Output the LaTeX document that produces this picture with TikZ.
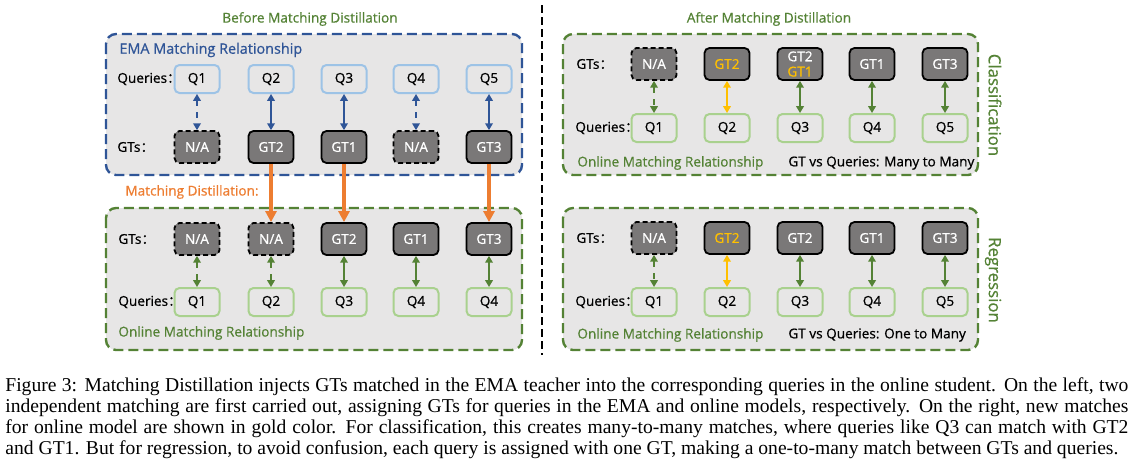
\documentclass[tikz,border=0pt]{standalone}
\usepackage{fontspec}
\setmainfont{Open Sans}[FakeBold=0.7]
\newfontfamily\capfont{Liberation Serif}
\newfontfamily\cjk{Noto Sans CJK SC}[FakeBold=0.7]
\usetikzlibrary{arrows.meta}

\definecolor{emablue}{HTML}{2F5597}
\definecolor{onlgreen}{HTML}{548235}
\definecolor{qblue}{HTML}{9DC3E6}
\definecolor{qgreen}{HTML}{A9D18E}
\definecolor{panelgray}{HTML}{E7E6E6}
\definecolor{gtgray}{HTML}{7A7878}
\definecolor{distorange}{HTML}{ED7D31}
\definecolor{goldc}{HTML}{FFC000}

\tikzset{
  txt/.style={font=\fontsize{6.8}{8}\selectfont},
  panel/.style={line width=1.2pt, dash pattern=on 5pt off 2.5pt, rounded corners=5pt, fill=panelgray},
  qbox/.style={txt, draw, line width=1pt, rounded corners=2.5pt, minimum width=22.5pt, minimum height=14pt, inner sep=0pt},
  emaq/.style={qbox, draw=qblue},
  onq/.style={qbox, draw=qgreen},
  gtbox/.style={txt, draw=black, fill=gtgray, line width=0.9pt, rounded corners=2.5pt, minimum width=22.5pt, minimum height=16pt, inner sep=0pt, text=white, align=center},
  nabox/.style={gtbox, dash pattern=on 2.5pt off 1.5pt},
  link/.style={{Triangle[length=3.4pt,width=3.8pt]}-{Triangle[length=3.4pt,width=3.8pt]}, line width=0.75pt},
  emalink/.style={link, emablue},
  onlink/.style={link, onlgreen},
  goldlink/.style={link, goldc},
  distil/.style={-{Triangle[length=5.5pt,width=5.5pt]}, line width=2pt, distorange},
  rowlabel/.style={txt, anchor=west, inner sep=0pt},
  title/.style={txt, text=onlgreen},
  side/.style={font=\fontsize{8.4}{10}\selectfont, text=onlgreen, rotate=-90}
}

\begin{document}
\begin{tikzpicture}[x=0.5pt,y=-0.5pt]
\useasboundingbox (0,0) rectangle (1135,471);

% separator
\draw[line width=1pt, dash pattern=on 4pt off 2pt] (542,5) -- (542,355);

% ---------- left: before matching distillation ----------
\node[title] (before) at (310,19) {Before Matching Distillation};
\draw[panel, draw=emablue] (106,34) rectangle (522,175);
\draw[panel, draw=onlgreen] (106,208) rectangle (522,350);

\node[rowlabel, text=emablue, font=\fontsize{7.2}{8}\selectfont] (emalab) at (119,50) {EMA Matching Relationship};
\node[rowlabel] (eqlab) at (117,79) {Queries{\cjk ：}};
\node[rowlabel] (eglab) at (117,147) {GTs{\cjk ：}};

\node[emaq] (eq1) at (197,79) {Q1};
\node[emaq] (eq2) at (271,79) {Q2};
\node[emaq] (eq3) at (344,79) {Q3};
\node[emaq] (eq4) at (416,79) {Q4};
\node[emaq] (eq5) at (489,79) {Q5};
\node[nabox] (eg1) at (197,147) {N/A};
\node[gtbox] (eg2) at (271,147) {GT2};
\node[gtbox] (eg3) at (344,147) {GT1};
\node[nabox] (eg4) at (416,147) {N/A};
\node[gtbox] (eg5) at (489,147) {GT3};

\draw[emalink, dashed] (eq1) -- (eg1);
\draw[emalink] (eq2) -- (eg2);
\draw[emalink] (eq3) -- (eg3);
\draw[emalink, dashed] (eq4) -- (eg4);
\draw[emalink] (eq5) -- (eg5);

\node[rowlabel, text=distorange] (distlab) at (125,192) {Matching Distillation:};

\node[rowlabel] (oglab) at (118,239) {GTs{\cjk ：}};
\node[rowlabel] (oqlab) at (118,302) {Queries{\cjk ：}};
\node[rowlabel, text=onlgreen] (onlab) at (118,333) {Online Matching Relationship};

\node[nabox] (og1) at (197,239) {N/A};
\node[nabox] (og2) at (271,239) {N/A};
\node[gtbox] (og3) at (344,239) {GT2};
\node[gtbox] (og4) at (416,239) {GT1};
\node[gtbox] (og5) at (489,239) {GT3};
\node[onq] (oq1) at (197,302) {Q1};
\node[onq] (oq2) at (271,302) {Q2};
\node[onq] (oq3) at (344,302) {Q3};
\node[onq] (oq4) at (416,302) {Q4};
\node[onq] (oq5) at (489,302) {Q4};

\draw[onlink, dashed] (og1) -- (oq1);
\draw[onlink, dashed] (og2) -- (oq2);
\draw[onlink] (og3) -- (oq3);
\draw[onlink] (og4) -- (oq4);
\draw[onlink] (og5) -- (oq5);

\draw[distil] (eg2) -- (og2);
\draw[distil] (eg3) -- (og3);
\draw[distil] (eg5) -- (og5);

% ---------- right: after matching distillation ----------
\node[title] (after) at (769,19) {After Matching Distillation};
\draw[panel, draw=onlgreen] (563,34) rectangle (978,175);
\draw[panel, draw=onlgreen] (563,208) rectangle (978,350);
\node[side] (clslab) at (995,105) {Classification};
\node[side] (reglab) at (993,280) {Regression};

% classification
\node[rowlabel] (cglab) at (576,64) {GTs{\cjk ：}};
\node[rowlabel] (cqlab) at (575,128) {Queries{\cjk ：}};
\node[rowlabel, text=onlgreen] (clon) at (577,163) {Online Matching Relationship};
\node[rowlabel] (clmm) at (788,163) {GT vs Queries: Many to Many};

\node[nabox] (cg1) at (654,64) {N/A};
\node[gtbox, text=goldc] (cg2) at (727,64) {GT2};
\node[gtbox, font=\fontsize{6.8}{7.6}\selectfont] (cg3) at (800,64) {GT2\\\textcolor{goldc}{GT1}};
\node[gtbox] (cg4) at (872,64) {GT1};
\node[gtbox] (cg5) at (945,64) {GT3};
\node[onq] (cq1) at (654,128) {Q1};
\node[onq] (cq2) at (727,128) {Q2};
\node[onq] (cq3) at (800,128) {Q3};
\node[onq] (cq4) at (872,128) {Q4};
\node[onq] (cq5) at (945,128) {Q5};

\draw[onlink, dashed] (cg1) -- (cq1);
\draw[goldlink] (cg2) -- (cq2);
\draw[onlink] (cg3) -- (cq3);
\draw[onlink] (cg4) -- (cq4);
\draw[onlink] (cg5) -- (cq5);

% regression
\node[rowlabel] (rglab) at (576,238) {GTs{\cjk ：}};
\node[rowlabel] (rqlab) at (575,302) {Queries{\cjk ：}};
\node[rowlabel, text=onlgreen] (rgon) at (577,335) {Online Matching Relationship};
\node[rowlabel] (rgom) at (788,335) {GT vs Queries: One to Many};

\node[nabox] (rg1) at (654,238) {N/A};
\node[gtbox, text=goldc] (rg2) at (727,238) {GT2};
\node[gtbox] (rg3) at (800,238) {GT2};
\node[gtbox] (rg4) at (872,238) {GT1};
\node[gtbox] (rg5) at (945,238) {GT3};
\node[onq] (rq1) at (654,302) {Q1};
\node[onq] (rq2) at (727,302) {Q2};
\node[onq] (rq3) at (800,302) {Q3};
\node[onq] (rq4) at (872,302) {Q4};
\node[onq] (rq5) at (945,302) {Q5};

\draw[onlink, dashed] (rg1) -- (rq1);
\draw[goldlink] (rg2) -- (rq2);
\draw[onlink] (rg3) -- (rq3);
\draw[onlink] (rg4) -- (rq4);
\draw[onlink] (rg5) -- (rq5);

% caption
\node[anchor=north west, inner sep=0pt, text width=561.5pt, align=justify,
      font=\capfont\fontsize{9.8}{10.5}\selectfont] (cap) at (5,377)
{Figure 3: Matching Distillation injects GTs matched in the EMA teacher into the corresponding queries in the online student. On the left, two\linebreak
independent matching are first carried out, assigning GTs for queries in the EMA and online models, respectively. On the right, new matches\linebreak
for online model are shown in gold color. For classification, this creates many-to-many matches, where queries like Q3 can match with GT2\linebreak
and GT1. But for regression, to avoid confusion, each query is assigned with one GT, making a one-to-many match between GTs and queries.};
\end{tikzpicture}
\end{document}
